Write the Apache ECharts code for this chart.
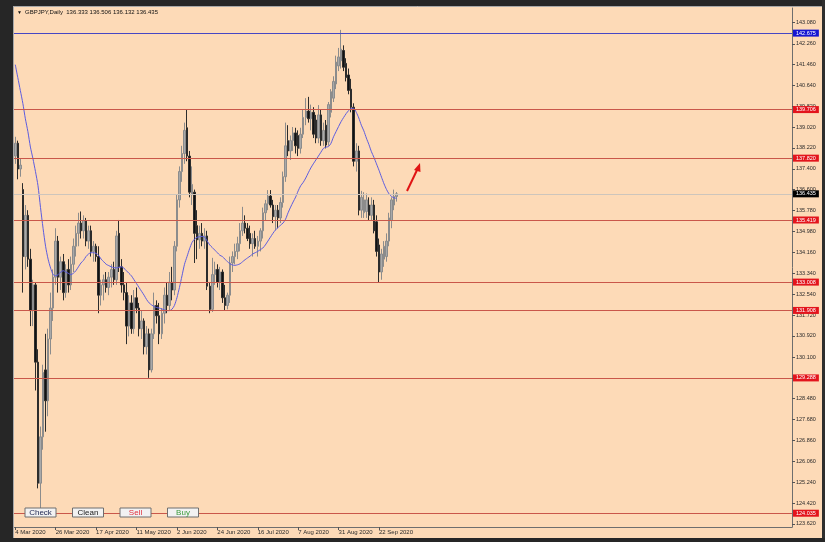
<!DOCTYPE html>
<html><head><meta charset="utf-8">
<script src="https://cdn.jsdelivr.net/npm/echarts@6/dist/echarts.min.js"></script>
<style>html,body{margin:0;padding:0;background:#262626;overflow:hidden}#c{width:825px;height:542px}</style>
</head><body><div id="c"></div>
<script>
// ---- data ----
const symbolName = 'GBPJPY,Daily';
const firstDate = '2020-03-04';
const barOpen = [137.9,138.4,137.4,136.6,134.0,135.6,133.9,131.9,132.9,129.9,125.2,127.0,129.6,128.4,130.8,132.0,133.2,134.6,133.2,133.8,
132.6,133.5,132.9,133.7,134.4,134.9,135.3,135.0,135.4,134.6,135.0,134.2,134.4,134.0,132.5,132.9,133.1,132.8,133.2,133.5,
133.1,134.9,133.6,132.9,132.6,131.3,132.2,131.2,132.4,132.0,131.2,131.5,130.5,131.0,129.6,131.0,132.1,131.7,131.0,131.8,
132.5,132.1,133.0,132.7,134.4,136.2,137.3,138.0,139.0,137.9,136.4,136.5,135.2,134.65,134.9,134.6,134.8,132.85,131.95,133.3,
133.5,133.0,133.4,132.4,132.1,132.5,133.75,134.0,134.2,134.5,135.0,135.3,135.1,134.9,134.5,134.7,134.4,134.6,135.0,135.7,
136.05,136.35,136.0,135.55,135.8,135.5,136.1,137.1,138.5,138.1,138.5,138.8,138.7,138.2,138.75,139.4,139.65,139.35,139.6,139.3,
138.6,139.5,138.5,139.1,138.45,139.6,140.15,140.7,141.4,141.6,142.0,141.5,141.05,140.5,139.8,137.7,138.1,135.8,135.7,135.75,
136.0,135.6,136.0,135.35,134.45,133.4,133.9,134.0,134.6,135.4,136.0,136.333];
const barHigh = [138.65,138.5,137.8,136.85,136.0,135.8,134.3,133.1,133.0,130.4,127.4,129.8,131.0,131.2,132.6,133.5,135.1,134.8,134.0,134.1,
133.7,133.9,134.0,134.7,135.2,135.7,135.75,135.6,135.5,135.2,135.2,134.6,134.5,134.4,133.1,133.3,133.4,133.4,133.7,133.8,
135.0,135.42,133.9,133.4,133.0,132.5,132.5,132.7,132.8,132.2,131.9,131.6,131.3,131.2,131.2,132.6,132.3,132.2,132.0,132.8,
133.0,133.4,133.6,134.6,136.4,137.5,138.3,139.2,139.706,138.1,137.5,136.6,135.8,135.2,135.3,135.1,135.0,133.0,133.95,133.8,
133.7,133.6,133.5,132.9,132.6,134.0,134.2,134.5,134.77,135.3,135.93,135.6,135.3,135.2,134.9,135.0,134.8,135.1,135.9,136.2,
136.58,136.58,136.2,136.0,136.0,136.3,137.3,139.2,139.1,138.7,139.03,139.0,138.9,139.0,139.69,140.15,140.2,139.9,139.8,139.5,
139.88,139.7,139.2,139.3,140.0,140.5,141.0,141.8,142.1,142.8,142.2,141.7,141.3,140.9,139.95,138.4,138.3,136.55,136.5,136.45,
136.3,136.3,136.2,135.6,134.7,134.3,134.6,134.9,135.7,136.3,136.6,136.506];
const barLow = [137.6,137.0,137.1,132.6,133.5,133.6,131.3,131.3,128.8,125.0,124.05,126.5,127.2,127.8,130.2,131.5,132.9,132.6,132.7,132.3,
132.4,132.6,132.7,133.4,134.0,134.4,134.7,134.7,134.4,134.3,134.0,133.8,133.8,131.8,132.1,132.3,132.6,132.5,132.8,132.9,
132.9,133.4,132.6,132.3,130.6,130.9,131.0,131.0,131.8,130.9,130.8,130.2,130.2,129.29,129.5,130.8,131.4,130.6,130.8,131.4,
131.8,131.9,132.3,132.5,134.2,135.9,136.9,137.6,137.7,136.3,136.0,133.75,133.9,134.3,134.4,134.3,132.7,131.8,131.85,132.9,
132.8,132.7,132.2,131.908,131.95,132.2,133.4,133.7,133.9,134.2,134.8,134.9,134.6,134.3,134.0,134.3,134.0,134.2,134.7,135.4,
135.8,135.9,135.3,135.03,135.1,135.3,135.9,136.9,137.9,137.75,138.1,138.0,137.9,138.0,138.6,139.1,139.2,138.9,138.6,138.4,
138.4,138.3,138.3,138.2,138.3,139.4,140.0,140.5,141.2,141.3,141.2,140.8,140.3,139.6,137.5,137.3,135.6,135.5,135.5,135.5,
135.4,135.4,134.9,134.0,133.008,133.1,133.6,133.8,134.4,135.1,135.8,136.132];
const barClose = [138.4,137.4,137.55,134.0,135.6,133.9,131.9,132.9,129.9,125.2,127.0,129.5,128.4,130.8,132.0,133.2,134.6,133.2,133.8,132.6,
133.5,132.9,133.7,134.4,134.9,135.3,135.0,135.4,134.6,135.0,134.2,134.4,134.0,132.5,132.9,133.1,132.8,133.2,133.5,133.1,
134.8,133.6,132.9,132.6,131.3,132.2,131.2,132.4,132.0,131.2,131.5,130.5,131.0,129.6,131.0,132.1,131.7,131.0,131.8,132.5,
132.1,133.0,132.7,134.4,136.2,137.3,138.0,138.9,137.9,136.5,136.8,134.9,134.65,134.9,134.6,134.8,132.85,131.95,133.3,133.5,
133.0,133.4,132.4,132.1,132.5,133.75,134.0,134.2,134.5,135.0,135.3,135.1,134.7,134.5,134.7,134.4,134.6,135.0,135.7,136.05,
136.35,136.0,135.55,135.8,135.5,136.1,137.1,138.3,138.1,138.5,138.8,138.3,138.2,138.75,139.4,139.65,139.35,139.6,138.75,138.6,
139.5,138.5,138.9,138.33,139.9,140.4,140.8,141.55,141.75,142.05,141.35,140.95,140.45,139.8,137.7,138.1,135.8,136.3,136.2,136.2,
135.6,136.0,135.0,134.2,133.4,134.1,134.4,134.6,135.5,136.2,136.33,136.435];
const maValues = [141.45,140.95,140.45,139.95,139.35,138.85,138.25,137.8,137.3,136.75,135.9,135.1,134.4,133.9,133.55,133.3,133.25,133.3,133.4,133.45,
133.4,133.35,133.3,133.35,133.45,133.6,133.75,133.85,134.0,134.1,134.15,134.15,134.12,134.05,133.9,133.8,133.7,133.65,133.6,133.57,
133.56,133.58,133.6,133.55,133.45,133.35,133.25,133.1,132.95,132.8,132.65,132.5,132.33,132.2,132.12,132.06,132.02,132.0,131.97,131.93,
131.9,131.9,131.95,132.1,132.4,132.8,133.25,133.7,134.0,134.3,134.55,134.68,134.75,134.77,134.78,134.75,134.6,134.45,134.35,134.25,
134.15,134.05,134.0,133.9,133.8,133.72,133.67,133.66,133.68,133.72,133.8,133.88,133.95,134.02,134.1,134.15,134.2,134.27,134.33,134.45,
134.6,134.75,134.9,135.03,135.12,135.22,135.3,135.45,135.7,135.92,136.12,136.31,136.55,136.75,136.88,137.05,137.25,137.44,137.6,137.75,
137.9,138.05,138.2,138.25,138.27,138.4,138.65,138.85,139.05,139.24,139.4,139.55,139.67,139.75,139.75,139.6,139.38,139.1,138.88,138.6,
138.35,138.07,137.85,137.6,137.35,137.08,136.82,136.6,136.43,136.33,136.28,136.26];
const redLevels = [139.706,137.820,135.419,133.008,131.908,129.288,124.035];
const blueLevels = [142.675];
const yTickValues = [123.620,124.420,125.240,126.060,126.860,127.680,128.480,129.280,130.100,130.920,131.720,132.540,133.340,
134.160,134.980,135.780,136.600,137.400,138.220,139.020,139.820,140.640,141.460,142.260,143.080];
const xLabelEvery = 16;
const buttonNames = ['Check','Clean','Sell','Buy'];
const buttonColors = ['#1c2450','#202020','#e0303c','#3a9a3a'];

// ---- build categories: trading days (weekdays) ----
const MONTHS = ['Jan','Feb','Mar','Apr','May','Jun','Jul','Aug','Sep','Oct','Nov','Dec'];
const nBars = barClose.length;
const dates = [];
{ let d = new Date(firstDate + 'T00:00:00Z');
  while (dates.length < nBars) {
    const wd = d.getUTCDay();
    if (wd !== 0 && wd !== 6) dates.push(d.getUTCDate() + ' ' + MONTHS[d.getUTCMonth()] + ' ' + d.getUTCFullYear());
    d = new Date(d.getTime() + 86400000);
  } }
const totalSlots = 308;
const cats = dates.concat(new Array(totalSlots - nBars).fill(''));
const candleData = barOpen.map((o, i) => [o, barClose[i], barLow[i], barHigh[i]]);
const last = nBars - 1;
const lastPrice = barClose[last];

const FONT = 'Liberation Sans, Arial, sans-serif';
const PEACH = '#FDDAB7';
const lab = (bg) => ({show:true, position:'end', distance:1, formatter: p => Number(p.value).toFixed(3),
  color:'#fff', backgroundColor: bg, fontSize:5.5, fontFamily: FONT, padding:[1,3,0,3], lineHeight:6});
const levelLines = [];
redLevels.forEach(v => levelLines.push({yAxis: v, lineStyle:{color:'#c9574a', width:1, type:'solid'}, label: lab('#e3141c')}));
blueLevels.forEach(v => levelLines.push({yAxis: v, lineStyle:{color:'#4646c4', width:1, type:'solid'}, label: lab('#1616d2')}));
levelLines.push({yAxis: lastPrice, lineStyle:{color:'#cdc5bc', width:1, type:'solid'}, label: lab('#000')});

const showLab = (idx) => idx < nBars && idx % xLabelEvery === 0;

const btnX = [25, 72.5, 120, 167.5];
const graphics = [
  {type:'rect', shape:{x:0,y:0,width:825,height:6}, style:{fill:'#262626'}, z:50, silent:true},
  {type:'rect', shape:{x:0,y:0,width:13,height:542}, style:{fill:'#262626'}, z:50, silent:true},
  {type:'rect', shape:{x:822,y:0,width:3,height:542}, style:{fill:'#2e2e2e'}, z:50, silent:true},
  {type:'rect', shape:{x:0,y:538,width:825,height:4}, style:{fill:'#262626'}, z:50, silent:true},
  {type:'line', shape:{x1:13.5,y1:6,x2:13.5,y2:538}, style:{stroke:'#a8a8a8', lineWidth:1}, z:51, silent:true},
  {type:'line', shape:{x1:13,y1:6.5,x2:822,y2:6.5}, style:{stroke:'#a8a8a8', lineWidth:1}, z:51, silent:true},
  {type:'text', x:17, y:10, style:{text:'\u25BC', fontSize:5, fill:'#111', fontFamily:FONT}, z:52},
  {type:'text', x:25, y:9.5, style:{text: symbolName + '  ' + [barOpen[last], barHigh[last], barLow[last], barClose[last]].map(v=>v.toFixed(3)).join(' '),
     fontSize:6, fill:'#111', fontFamily:FONT}, z:52},
  // annotation arrow
  {type:'line', shape:{x1:407,y1:191,x2:418,y2:168}, style:{stroke:'#e01414', lineWidth:2}, z:20},
  {type:'polygon', shape:{points:[[420,163],[414,170],[420.5,172]]}, style:{fill:'#e01414'}, z:20}
];
buttonNames.forEach((n, k) => {
  graphics.push({type:'rect', shape:{x:btnX[k], y:508, width:31, height:9}, style:{fill:'#f2f2f2', stroke:'#6e6e6e', lineWidth:1}, z:30});
  graphics.push({type:'text', x:btnX[k] + 15.5, y:512.8, style:{text:n, fontSize:8, fill:buttonColors[k], fontFamily:FONT, align:'center', verticalAlign:'middle'}, z:31});
});

const chart = echarts.init(document.getElementById('c'), null, {renderer:'canvas'});
chart.setOption({
  animation:false,
  backgroundColor: PEACH,
  grid:{left:14, right:33, top:8, bottom:15, outerBoundsMode:'none', show:false},
  xAxis:{type:'category', data:cats, boundaryGap:true,
    axisLine:{show:true, lineStyle:{color:'#6e6e6e', width:1}},
    axisTick:{show:true, alignWithLabel:true, length:3, interval:(i)=>showLab(i), lineStyle:{color:'#555'}},
    axisLabel:{interval:(i)=>showLab(i), align:'left', margin:2, fontSize:6, color:'#2a2a2a', fontFamily:FONT},
    splitLine:{show:false}},
  yAxis:{type:'value', position:'right', min:123.50, max:143.65, scale:true,
    axisLine:{show:true, lineStyle:{color:'#6e6e6e', width:1}},
    axisTick:{show:true, length:3, customValues:yTickValues, lineStyle:{color:'#555'}},
    axisLabel:{customValues:yTickValues, formatter:(v)=>v.toFixed(3), fontSize:5.5, color:'#2a2a2a', margin:4, fontFamily:FONT},
    splitLine:{show:false}},
  graphic:{elements:graphics},
  series:[
    {type:'line', name:'levels', data:cats.map(()=>null), z:1, silent:true, symbol:'none',
     markLine:{silent:true, symbol:['none','none'], precision:3, data:levelLines}},
    {type:'candlestick', name:'GBPJPY', data:candleData, barWidth:2, z:3,
     itemStyle:{color:'#a9a9a9', borderColor:'#8c8c8c', color0:'#121212', borderColor0:'#2c2c2c', borderWidth:1}},
    {type:'line', name:'MA', data:maValues, symbol:'none', smooth:0.25, z:4,
     lineStyle:{color:'#5c5ce0', width:1}}
  ]
});
</script></body></html>
